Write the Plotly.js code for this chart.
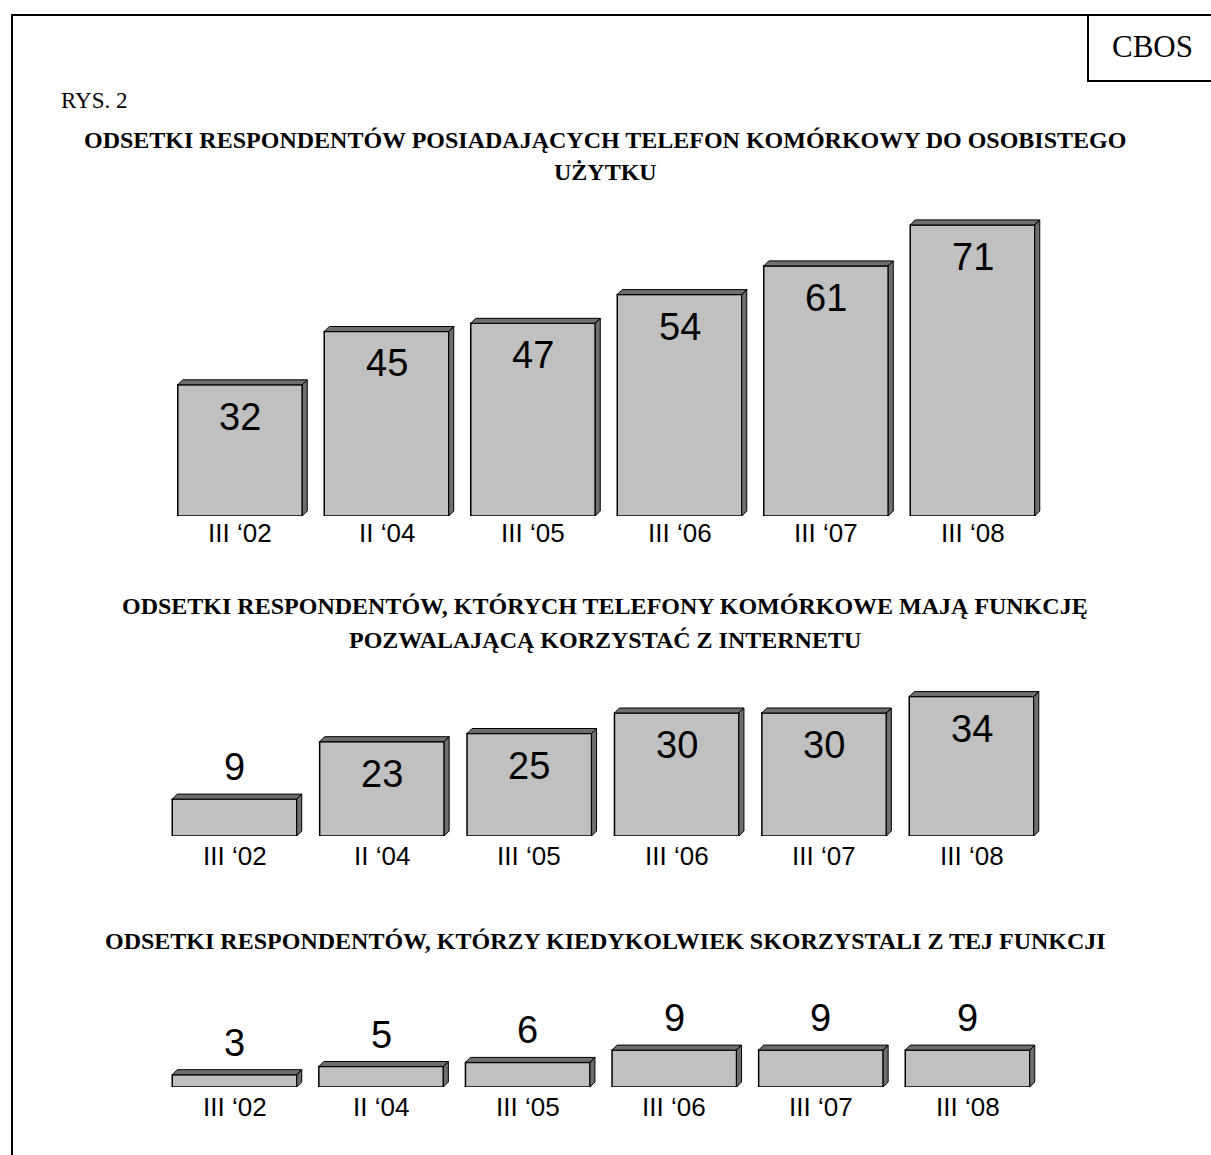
<!DOCTYPE html>
<html>
<head>
<meta charset="utf-8">
<script src="https://cdn.plot.ly/plotly-3.0.1.min.js"></script>
<style>html,body{margin:0;padding:0;background:#fff;}#chart{width:1211px;height:1155px;}</style>
</head>
<body>
<div id="chart"></div>
<script>
const categories = ["III \u201802", "II \u201804", "III \u201805", "III \u201806", "III \u201807", "III \u201808"];
const ownPhone = [32, 45, 47, 54, 61, 71];
const internetFunction = [9, 23, 25, 30, 30, 34];
const usedFunction = [3, 5, 6, 9, 9, 9];
const title1Lines = ["ODSETKI RESPONDENTÓW POSIADAJĄCYCH TELEFON KOMÓRKOWY DO OSOBISTEGO", "UŻYTKU"];
const title2Lines = ["ODSETKI RESPONDENTÓW, KTÓRYCH TELEFONY KOMÓRKOWE MAJĄ FUNKCJĘ", "POZWALAJĄCĄ KORZYSTAĆ Z INTERNETU"];
const title3Lines = ["ODSETKI RESPONDENTÓW, KTÓRZY KIEDYKOLWIEK SKORZYSTALI Z TEJ FUNKCJI"];
const figureLabel = "RYS. 2";
const sourceLabel = "CBOS";

const W = 1211, H = 1155, PPU = 4.1, BARPX = 124.5, DEPTH = 5;
const panels = [
  {values: ownPhone, titles: title1Lines, bottom: 516, top: 195, c0: 240, s: 146.5, titleY: [140, 172], catShift: 17},
  {values: internetFunction, titles: title2Lines, bottom: 836, top: 670, c0: 234.5, s: 147.4, titleY: [606, 640], catShift: 20},
  {values: usedFunction, titles: title3Lines, bottom: 1087, top: 985, c0: 234.5, s: 146.6, titleY: [941], catShift: 20}
];

const FRONT = '#C0C0C0', SIDE = '#6E6E6E';
const traces = [];
const annotations = [];
const layout = {
  width: W, height: H,
  margin: {l: 0, r: 0, t: 0, b: 0},
  paper_bgcolor: '#fff', plot_bgcolor: 'rgba(0,0,0,0)',
  showlegend: false,
  annotations: annotations,
  shapes: [
    {type: 'line', xref: 'paper', yref: 'paper', x0: 12/W, x1: 12/W, y0: 0, y1: 1 - 15/H, line: {color: '#000', width: 2}},
    {type: 'line', xref: 'paper', yref: 'paper', x0: 11/W, x1: 1, y0: 1 - 15/H, y1: 1 - 15/H, line: {color: '#000', width: 2}},
    {type: 'line', xref: 'paper', yref: 'paper', x0: 1088/W, x1: 1088/W, y0: 1 - 15/H, y1: 1 - 81/H, line: {color: '#000', width: 2}},
    {type: 'line', xref: 'paper', yref: 'paper', x0: 1087/W, x1: 1, y0: 1 - 81/H, y1: 1 - 81/H, line: {color: '#000', width: 2}}
  ]
};

annotations.push({xref: 'paper', yref: 'paper', x: 59/W, y: 1 - 101/H, xanchor: 'left', yanchor: 'middle', showarrow: false,
  text: figureLabel, font: {family: 'Liberation Serif, Times New Roman, serif', size: 23, color: '#000'}});
annotations.push({xref: 'paper', yref: 'paper', x: 1152/W, y: 1 - 46/H, xanchor: 'center', yanchor: 'middle', showarrow: false,
  text: sourceLabel, font: {family: 'Liberation Serif, Times New Roman, serif', size: 31, color: '#000'}});

panels.forEach((p, k) => {
  const n = k === 0 ? '' : String(k + 1);
  const xa = 'x' + n, ya = 'y' + n;
  const bw = BARPX / p.s;
  const dx = DEPTH / p.s, dy = DEPTH / PPU;
  const xs = categories.map((c, i) => i);
  layout['xaxis' + n] = {domain: [0, 1], range: [-p.c0 / p.s, (W - p.c0) / p.s], visible: false, fixedrange: true};
  layout['yaxis' + n] = {domain: [1 - p.bottom / H, 1 - p.top / H], range: [0, (p.bottom - p.top) / PPU], visible: false, fixedrange: true};

  // top and side faces
  const px = [], py = [];
  p.values.forEach((v, i) => {
    const l = i - bw / 2, r = i + bw / 2;
    px.push(l, l + dx, r + dx, r, l, null);
    py.push(v, v + dy, v + dy, v, v, null);
    px.push(r, r + dx, r + dx, r, r, null);
    py.push(0, dy, v + dy, v, 0, null);
  });
  traces.push({type: 'scatter', mode: 'lines', x: px, y: py, fill: 'toself', fillcolor: SIDE,
    line: {color: '#000', width: 1}, xaxis: xa, yaxis: ya, hoverinfo: 'skip', connectgaps: false});
  traces.push({type: 'bar', x: xs, y: p.values, width: bw, marker: {color: FRONT, line: {color: '#000', width: 1.5}},
    xaxis: xa, yaxis: ya, hoverinfo: 'skip'});

  p.values.forEach((v, i) => {
    const inside = v * PPU > 60;
    annotations.push({xref: xa, yref: ya, x: i, y: v, xanchor: 'center', yanchor: 'middle', yshift: inside ? -32 : 32,
      showarrow: false, text: String(v), font: {family: 'Liberation Sans, Arial, sans-serif', size: 38, color: '#000'}});
    annotations.push({xref: xa, yref: ya, x: i, y: 0, xanchor: 'center', yanchor: 'middle', yshift: -p.catShift,
      showarrow: false, text: categories[i], font: {family: 'Liberation Sans, Arial, sans-serif', size: 26, color: '#000'}});
  });
  p.titles.forEach((t, j) => {
    annotations.push({xref: 'paper', yref: 'paper', x: 605/W, y: 1 - p.titleY[j]/H, xanchor: 'center', yanchor: 'middle',
      showarrow: false, text: '<b>' + t + '</b>', font: {family: 'Liberation Serif, Times New Roman, serif', size: 24, color: '#000'}});
  });
});

Plotly.newPlot('chart', traces, layout, {staticPlot: true, displayModeBar: false});
</script>
</body>
</html>
